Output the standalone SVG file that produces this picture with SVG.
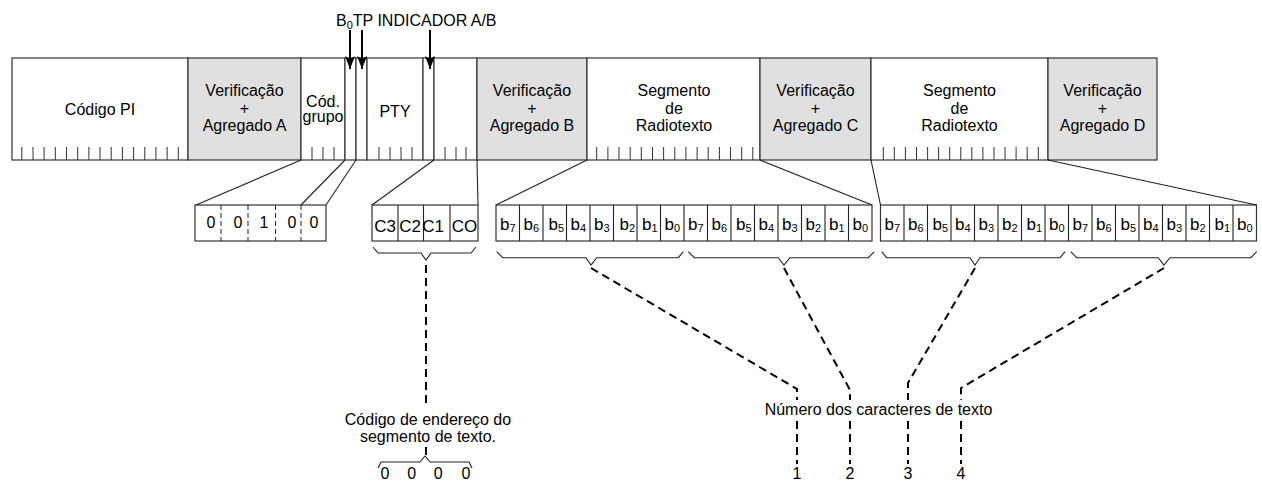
<svg xmlns="http://www.w3.org/2000/svg" width="1262" height="484" viewBox="0 0 1262 484">
<style>
.t{font-family:"Liberation Sans",Arial,sans-serif;font-size:16px;fill:#000;text-anchor:middle}
.tl{font-family:"Liberation Sans",Arial,sans-serif;font-size:16px;fill:#000}
.b{font-family:"Liberation Sans",Arial,sans-serif;font-size:17px;fill:#000;text-anchor:middle}
.box{fill:#fff;stroke:#333;stroke-width:1.2}
.chk{fill:#e0e0e0;stroke:#333;stroke-width:1.2}
.tick{stroke:#333;stroke-width:1;fill:none}
.ln{stroke:#222;stroke-width:1.1;fill:none}
.dv{stroke:#222;stroke-width:1;stroke-dasharray:5 3;fill:none}
.dash{stroke:#000;stroke-width:2;stroke-dasharray:8 5;fill:none}
.arr{stroke:#000;stroke-width:2;fill:none}
</style>
<defs>
<marker id="ah" viewBox="0 -5 13 10" refX="13" refY="0" markerWidth="13" markerHeight="10" markerUnits="userSpaceOnUse" orient="auto">
<path d="M0,-5 L13,0 L0,5 L3,0 Z" fill="#000"/>
</marker>
</defs>

<g id="title-label">
<text class="tl" x="336" y="26">B<tspan font-size="11" dy="3">0</tspan><tspan dy="-3">TP INDICADOR A/B</tspan></text>
</g>

<g id="field-pi">
<rect class="box" x="12" y="58" width="176" height="102"/>
<path class="tick" d="M21.8,147V160M33,147V160M44.1,147V160M55.3,147V160M66.5,147V160M77.7,147V160M88.9,147V160M100,147V160M111.2,147V160M122.4,147V160M133.6,147V160M144.8,147V160M155.9,147V160M167.1,147V160M178.3,147V160"/>
<text class="t" x="100" y="115">Código PI</text>
</g>
<g id="field-chkA">
<rect class="chk" x="188" y="58" width="113" height="102"/>
<text class="t" x="244.5" y="96">Verificação</text>
<text class="t" x="244.5" y="113.5">+</text>
<text class="t" x="244.5" y="131">Agregado A</text>
</g>
<g id="field-grp">
<rect class="box" x="301" y="58" width="44" height="102"/>
<path class="tick" d="M312,147V160M323,147V160M334,147V160"/>
<text class="t" x="323" y="107">Cód.</text>
<text class="t" x="323" y="122">grupo</text>
</g>
<g id="field-b0"><rect class="box" x="345" y="58" width="11" height="102"/></g>
<g id="field-tp"><rect class="box" x="356" y="58" width="11" height="102"/></g>
<g id="field-pty">
<rect class="box" x="367" y="58" width="56" height="102"/>
<path class="tick" d="M379,147V160M390,147V160M401,147V160M412,147V160"/>
<text class="t" x="395" y="117">PTY</text>
</g>
<g id="field-ab"><rect class="box" x="423" y="58" width="11" height="102"/></g>
<g id="field-c">
<rect class="box" x="434" y="58" width="43" height="102"/>
<path class="tick" d="M445,147V160M456,147V160M466,147V160"/>
</g>
<g id="field-chkB">
<rect class="chk" x="477" y="58" width="110" height="102"/>
<text class="t" x="532" y="96">Verificação</text>
<text class="t" x="532" y="113.5">+</text>
<text class="t" x="532" y="131">Agregado B</text>
</g>
<g id="field-rt1">
<rect class="box" x="587" y="58" width="173" height="102"/>
<path class="tick" d="M596.7,147V160M607.9,147V160M619,147V160M630.2,147V160M641.3,147V160M652.5,147V160M663.6,147V160M674.8,147V160M685.9,147V160M697.1,147V160M708.2,147V160M719.4,147V160M730.5,147V160M741.7,147V160M752.8,147V160"/>
<text class="t" x="674" y="96">Segmento</text>
<text class="t" x="674" y="113.5">de</text>
<text class="t" x="674" y="131">Radiotexto</text>
</g>
<g id="field-chkC">
<rect class="chk" x="760" y="58" width="111" height="102"/>
<text class="t" x="815.5" y="96">Verificação</text>
<text class="t" x="815.5" y="113.5">+</text>
<text class="t" x="815.5" y="131">Agregado C</text>
</g>
<g id="field-rt2">
<rect class="box" x="871" y="58" width="177" height="102"/>
<path class="tick" d="M883.3,147V160M894.3,147V160M905.4,147V160M916.5,147V160M927.6,147V160M938.6,147V160M949.7,147V160M960.8,147V160M971.8,147V160M982.9,147V160M994,147V160M1005,147V160M1016.1,147V160M1027.2,147V160M1038.3,147V160"/>
<text class="t" x="959.5" y="96">Segmento</text>
<text class="t" x="959.5" y="113.5">de</text>
<text class="t" x="959.5" y="131">Radiotexto</text>
</g>
<g id="field-chkD">
<rect class="chk" x="1048" y="58" width="109" height="102"/>
<text class="t" x="1102.5" y="96">Verificação</text>
<text class="t" x="1102.5" y="113.5">+</text>
<text class="t" x="1102.5" y="131">Agregado D</text>
</g>

<g id="group-code-box">
<rect class="box" x="195" y="205" width="131" height="36"/>
<path class="dv" d="M221,205V241M248,205V241M275.5,205V241M301,205V241"/>
<text class="t" x="211" y="228">0</text>
<text class="t" x="238" y="228">0</text>
<text class="t" x="264" y="228">1</text>
<text class="t" x="292" y="228">0</text>
<text class="t" x="314" y="228">0</text>
</g>

<g id="address-box">
<rect class="box" x="372" y="205" width="106" height="36"/>
<path class="ln" d="M398,205V241M423.5,205V241M450,205V241"/>
<text class="b" x="385" y="232">C3</text>
<text class="b" x="410" y="232">C2</text>
<text class="b" x="433" y="232">C1</text>
<text class="b" x="464.5" y="232">CO</text>
</g>

<g id="bytes-1">
<rect class="box" x="496" y="205" width="376" height="36"/>
<path class="ln" d="M519.5,205V241M543,205V241M566.5,205V241M590,205V241M613.5,205V241M637,205V241M660.5,205V241M684,205V241M707.5,205V241M731,205V241M754.5,205V241M778,205V241M801.5,205V241M825,205V241M848.5,205V241"/>
<text class="b" x="507.8" y="230">b<tspan font-size="11" dy="2">7</tspan></text>
<text class="b" x="531.3" y="230">b<tspan font-size="11" dy="2">6</tspan></text>
<text class="b" x="556.3" y="230">b<tspan font-size="11" dy="2">5</tspan></text>
<text class="b" x="578.3" y="230">b<tspan font-size="11" dy="2">4</tspan></text>
<text class="b" x="601.8" y="230">b<tspan font-size="11" dy="2">3</tspan></text>
<text class="b" x="627.3" y="230">b<tspan font-size="11" dy="2">2</tspan></text>
<text class="b" x="649.8" y="230">b<tspan font-size="11" dy="2">1</tspan></text>
<text class="b" x="672.3" y="230">b<tspan font-size="11" dy="2">0</tspan></text>
<text class="b" x="695.8" y="230">b<tspan font-size="11" dy="2">7</tspan></text>
<text class="b" x="719.3" y="230">b<tspan font-size="11" dy="2">6</tspan></text>
<text class="b" x="743.8" y="230">b<tspan font-size="11" dy="2">5</tspan></text>
<text class="b" x="766.3" y="230">b<tspan font-size="11" dy="2">4</tspan></text>
<text class="b" x="789.8" y="230">b<tspan font-size="11" dy="2">3</tspan></text>
<text class="b" x="813.3" y="230">b<tspan font-size="11" dy="2">2</tspan></text>
<text class="b" x="836.8" y="230">b<tspan font-size="11" dy="2">1</tspan></text>
<text class="b" x="860.3" y="230">b<tspan font-size="11" dy="2">0</tspan></text>
</g>

<g id="bytes-2">
<rect class="box" x="880.5" y="205" width="376" height="36"/>
<path class="ln" d="M904,205V241M927.5,205V241M951,205V241M974.5,205V241M998,205V241M1021.5,205V241M1045,205V241M1068.5,205V241M1092,205V241M1115.5,205V241M1139,205V241M1162.5,205V241M1186,205V241M1209.5,205V241M1233,205V241"/>
<text class="b" x="892.3" y="230">b<tspan font-size="11" dy="2">7</tspan></text>
<text class="b" x="915.8" y="230">b<tspan font-size="11" dy="2">6</tspan></text>
<text class="b" x="940.3" y="230">b<tspan font-size="11" dy="2">5</tspan></text>
<text class="b" x="962.8" y="230">b<tspan font-size="11" dy="2">4</tspan></text>
<text class="b" x="986.3" y="230">b<tspan font-size="11" dy="2">3</tspan></text>
<text class="b" x="1009.8" y="230">b<tspan font-size="11" dy="2">2</tspan></text>
<text class="b" x="1034.3" y="230">b<tspan font-size="11" dy="2">1</tspan></text>
<text class="b" x="1056.8" y="230">b<tspan font-size="11" dy="2">0</tspan></text>
<text class="b" x="1080.3" y="230">b<tspan font-size="11" dy="2">7</tspan></text>
<text class="b" x="1103.8" y="230">b<tspan font-size="11" dy="2">6</tspan></text>
<text class="b" x="1128.3" y="230">b<tspan font-size="11" dy="2">5</tspan></text>
<text class="b" x="1150.8" y="230">b<tspan font-size="11" dy="2">4</tspan></text>
<text class="b" x="1174.3" y="230">b<tspan font-size="11" dy="2">3</tspan></text>
<text class="b" x="1197.8" y="230">b<tspan font-size="11" dy="2">2</tspan></text>
<text class="b" x="1222.3" y="230">b<tspan font-size="11" dy="2">1</tspan></text>
<text class="b" x="1244.8" y="230">b<tspan font-size="11" dy="2">0</tspan></text>
</g>

<g id="label-address">
<text class="t" x="428" y="425">Código de endereço do</text>
<text class="t" x="428" y="442">segmento de texto.</text>
<text class="t" x="385" y="479">0</text>
<text class="t" x="411.7" y="479">0</text>
<text class="t" x="438.3" y="479">0</text>
<text class="t" x="466" y="479">0</text>
</g>

<g id="label-chars">
<text class="t" x="878.5" y="415">Número dos caracteres de texto</text>
<text class="t" x="797" y="479">1</text>
<text class="t" x="850" y="479">2</text>
<text class="t" x="908" y="479">3</text>
<text class="t" x="961" y="479">4</text>
</g>

<g id="connectors">
<line class="arr" x1="350" y1="30" x2="350" y2="69" marker-end="url(#ah)"/>
<line class="arr" x1="362" y1="30" x2="362" y2="69" marker-end="url(#ah)"/>
<line class="arr" x1="430" y1="30" x2="430" y2="69" marker-end="url(#ah)"/>

<path class="ln" d="M301,160L196,205M345,160L301,205M356,160L326,205"/>
<path class="ln" d="M434,160L372,205M477,160L478,205"/>
<path class="ln" d="M587,160L496,205M760,160L872,205M871,160L880.5,205M1048,160L1256.5,205"/>

<path class="ln" d="M373,247L378,253H421L426,260L431,253H471L476,247"/>
<path class="ln" d="M496.7,251.7L502.7,257.7H586L591,265L596.7,257.7H678.3L683.3,251.7"/>
<path class="ln" d="M688.3,251.7L694.3,257.7H778.3L784,265L790,257.7H868.3L874.3,251.7"/>
<path class="ln" d="M881.7,251.7L886.7,257.7H970L975,265L980,257.7H1060L1065,251.7"/>
<path class="ln" d="M1070.7,251.7L1076.7,257.7H1158.3L1164,265L1170,257.7H1250.7L1256.7,251.7"/>
<path class="ln" d="M378,468L381,462H420L425,456L430,462H469L472,468"/>

<path class="dash" d="M426,265V408"/>
<path class="dash" d="M426,447V455"/>

<path class="dash" d="M591,268L797,389V400"/>
<path class="dash" d="M797,421V464"/>
<path class="dash" d="M784,268L850,390V400"/>
<path class="dash" d="M850,421V464"/>
<path class="dash" d="M975,268L908,383V400"/>
<path class="dash" d="M908,421V464"/>
<path class="dash" d="M1164,268L961,388V400"/>
<path class="dash" d="M961,421V464"/>
</g>
</svg>
